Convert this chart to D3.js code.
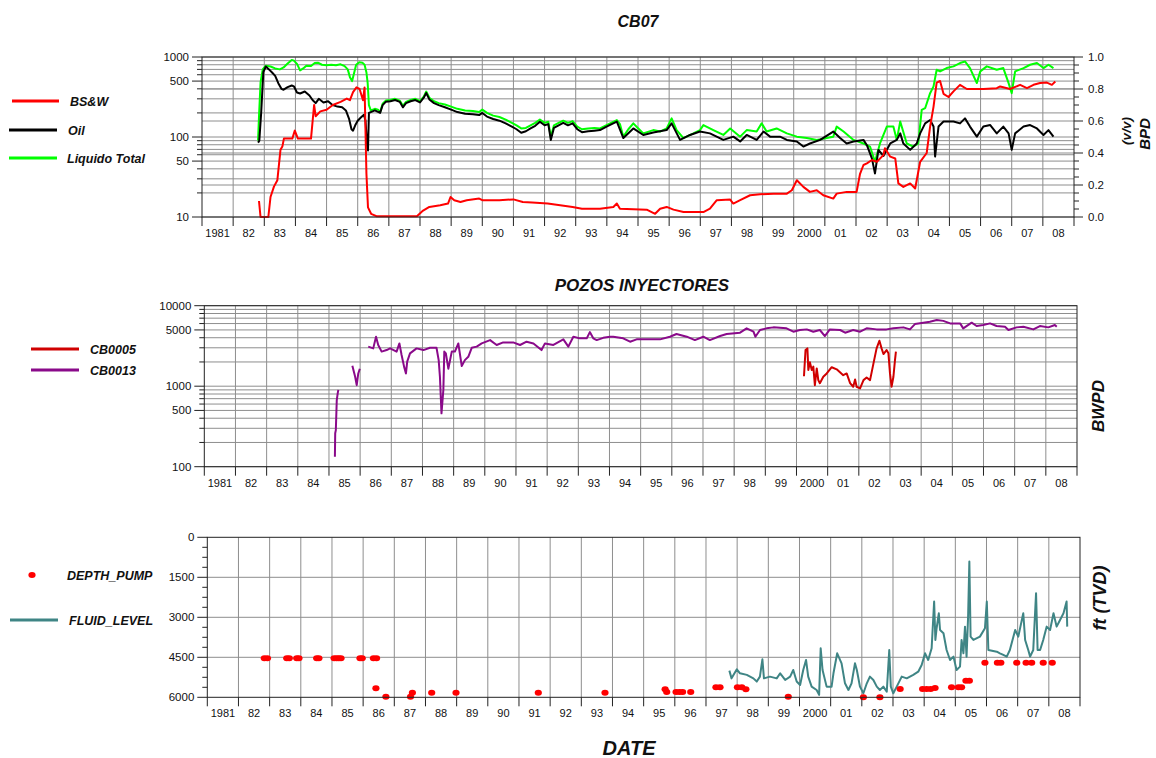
<!DOCTYPE html>
<html>
<head>
<meta charset="utf-8">
<script src="https://cdn.jsdelivr.net/npm/d3@7"></script>
<style>
  body { margin: 0; background: #fff; }
  svg text { font-family: "Liberation Sans", Arial, sans-serif; }
</style>
</head>
<body>
<svg id="chart" width="1156" height="758"></svg>
<script>
// ---------- x axis: one interval per year ----------
const yearTickLabels = ["1981","82","83","84","85","86","87","88","89","90","91","92","93","94",
  "95","96","97","98","99","2000","01","02","03","04","05","06","07","08"];

// ---------- CB07 production (BPD, log) and BS&W (v/v) ----------
const liquidoTotal = [
  [1982.80,90],[1982.83,180],[1982.88,480],[1982.95,700],[1983.05,780],[1983.2,760],[1983.35,720],
  [1983.5,700],[1983.62,740],[1983.75,830],[1983.88,920],[1983.95,900],[1984.05,820],[1984.15,680],
  [1984.25,720],[1984.35,780],[1984.5,770],[1984.62,840],[1984.72,850],[1984.85,800],[1985.0,790],
  [1985.15,800],[1985.3,790],[1985.45,810],[1985.58,770],[1985.68,700],[1985.75,560],[1985.82,500],
  [1985.88,620],[1985.95,800],[1986.05,860],[1986.15,850],[1986.22,800],[1986.28,640],[1986.32,470],
  [1986.36,250],[1986.42,215],[1986.55,225],[1986.65,220],[1986.72,205],[1986.8,260],[1986.9,285],
  [1987.05,290],[1987.2,300],[1987.35,285],[1987.45,245],[1987.55,275],[1987.7,290],[1987.85,300],
  [1988.0,280],[1988.12,320],[1988.2,370],[1988.3,310],[1988.45,280],[1988.6,265],[1988.8,255],
  [1989.0,240],[1989.2,225],[1989.45,215],[1989.7,212],[1989.9,205],[1990.0,220],[1990.15,200],
  [1990.35,185],[1990.55,178],[1990.75,165],[1990.95,150],[1991.1,140],[1991.25,128],[1991.4,130],
  [1991.55,140],[1991.7,150],[1991.85,165],[1992.0,150],[1992.12,155],[1992.2,100],[1992.3,140],
  [1992.45,150],[1992.6,160],[1992.75,150],[1992.9,158],[1993.05,135],[1993.2,125],[1993.4,128],
  [1993.6,130],[1993.78,128],[1993.99,141],[1994.32,163],[1994.42,145],[1994.53,101],[1994.69,125],
  [1994.85,148],[1995.01,128],[1995.17,111],[1995.49,122],[1995.71,117],[1995.92,128],[1996.08,171],
  [1996.24,122],[1996.46,97],[1996.78,111],[1996.99,122],[1997.1,141],[1997.42,122],[1997.74,106],
  [1997.96,128],[1998.28,101],[1998.49,122],[1998.81,117],[1998.97,148],[1999.13,117],[1999.45,128],
  [1999.78,111],[2000.1,101],[2000.42,97],[2000.74,92],[2001.06,97],[2001.27,101],[2001.38,135],
  [2001.6,117],[2001.92,92],[2002.24,83],[2002.45,76],[2002.61,49],[2002.77,83],[2002.99,135],
  [2003.2,135],[2003.31,92],[2003.42,156],[2003.63,83],[2003.84,76],[2004.0,83],[2004.11,218],
  [2004.22,229],[2004.38,353],[2004.49,429],[2004.59,693],[2004.7,661],[2004.91,727],[2005.13,764],
  [2005.34,840],[2005.5,880],[2005.66,727],[2005.88,472],[2005.99,661],[2006.2,764],[2006.52,693],
  [2006.73,727],[2006.9,472],[2007.0,353],[2007.11,661],[2007.38,727],[2007.59,800],[2007.81,840],
  [2008.02,727],[2008.18,800],[2008.34,727]
];
const oil = [
  [1982.80,85],[1982.84,90],[1982.9,200],[1982.97,650],[1983.05,760],[1983.15,700],[1983.25,640],
  [1983.35,580],[1983.45,470],[1983.55,400],[1983.62,390],[1983.75,420],[1983.88,440],[1983.95,430],
  [1984.05,360],[1984.15,350],[1984.3,370],[1984.45,330],[1984.55,290],[1984.65,265],[1984.75,300],
  [1984.9,270],[1985.05,280],[1985.2,250],[1985.35,240],[1985.5,235],[1985.62,215],[1985.72,170],
  [1985.8,125],[1985.85,120],[1985.92,140],[1986.0,160],[1986.1,175],[1986.2,190],[1986.25,160],
  [1986.3,80],[1986.33,68],[1986.36,200],[1986.42,205],[1986.55,215],[1986.72,200],[1986.8,250],
  [1986.9,275],[1987.05,280],[1987.2,290],[1987.35,275],[1987.45,235],[1987.55,265],[1987.7,280],
  [1987.85,290],[1988.0,270],[1988.12,310],[1988.2,355],[1988.3,295],[1988.45,265],[1988.6,250],
  [1988.8,235],[1989.0,220],[1989.2,205],[1989.45,195],[1989.7,192],[1989.9,188],[1990.0,200],
  [1990.15,180],[1990.35,168],[1990.55,160],[1990.75,148],[1990.95,135],[1991.1,125],[1991.25,113],
  [1991.4,118],[1991.55,128],[1991.7,138],[1991.85,155],[1992.0,140],[1992.12,145],[1992.2,92],
  [1992.3,130],[1992.45,140],[1992.6,150],[1992.75,140],[1992.9,148],[1993.05,125],[1993.2,115],
  [1993.4,118],[1993.6,120],[1993.78,122],[1993.99,135],[1994.32,156],[1994.53,97],[1994.85,128],
  [1995.17,106],[1995.49,114],[1995.92,122],[1996.08,148],[1996.35,92],[1996.67,106],[1996.99,117],
  [1997.31,111],[1997.74,92],[1998.06,101],[1998.28,88],[1998.49,106],[1998.81,92],[1999.03,117],
  [1999.24,101],[1999.56,101],[1999.78,92],[2000.1,88],[2000.31,76],[2000.52,83],[2000.85,92],
  [2001.27,117],[2001.49,97],[2001.7,83],[2001.92,88],[2002.24,92],[2002.35,79],[2002.51,54],
  [2002.61,35],[2002.72,69],[2002.88,58],[2003.1,83],[2003.31,92],[2003.42,111],[2003.52,83],
  [2003.74,69],[2003.95,83],[2004.06,111],[2004.22,148],[2004.38,163],[2004.49,135],[2004.54,57],
  [2004.65,135],[2004.81,156],[2005.13,156],[2005.34,148],[2005.5,171],[2005.66,135],[2005.88,101],
  [2006.09,135],[2006.31,141],[2006.52,111],[2006.73,135],[2006.9,111],[2007.0,69],[2007.11,111],
  [2007.38,135],[2007.59,141],[2007.81,128],[2008.02,106],[2008.18,122],[2008.34,101]
];
const bsw = [
  [1982.83,0.10],[1982.88,0.0],[1983.13,0.0],[1983.2,0.125],[1983.31,0.19],[1983.42,0.23],
  [1983.52,0.42],[1983.58,0.44],[1983.63,0.49],[1983.9,0.49],[1983.98,0.54],[1984.08,0.49],
  [1984.5,0.49],[1984.6,0.70],[1984.65,0.63],[1984.8,0.66],[1985.0,0.67],[1985.2,0.70],
  [1985.45,0.72],[1985.65,0.74],[1985.75,0.73],[1985.85,0.78],[1985.96,0.81],[1986.06,0.80],
  [1986.17,0.73],[1986.22,0.81],[1986.28,0.27],[1986.33,0.06],[1986.43,0.02],[1986.6,0.005],
  [1987.9,0.005],[1988.1,0.04],[1988.3,0.063],[1988.65,0.073],[1988.9,0.084],[1988.98,0.125],
  [1989.1,0.105],[1989.3,0.094],[1989.5,0.105],[1989.9,0.115],[1990.0,0.105],[1990.55,0.105],
  [1991.0,0.11],[1991.3,0.094],[1991.6,0.09],[1992.1,0.084],[1992.9,0.063],[1993.2,0.052],
  [1993.78,0.052],[1994.21,0.063],[1994.32,0.084],[1994.42,0.052],[1995.28,0.046],[1995.55,0.02],
  [1995.71,0.052],[1995.92,0.063],[1996.14,0.046],[1996.46,0.031],[1997.1,0.031],[1997.31,0.052],
  [1997.53,0.105],[1997.96,0.109],[1998.06,0.084],[1998.28,0.105],[1998.6,0.136],[1998.92,0.142],
  [1999.35,0.146],[1999.78,0.146],[1999.94,0.167],[2000.1,0.23],[2000.31,0.188],[2000.52,0.157],
  [2000.74,0.167],[2000.95,0.136],[2001.27,0.115],[2001.38,0.146],[2001.7,0.157],[2002.02,0.157],
  [2002.13,0.27],[2002.24,0.325],[2002.35,0.335],[2002.51,0.356],[2002.67,0.345],[2002.88,0.387],
  [2002.93,0.43],[2003.1,0.377],[2003.26,0.366],[2003.36,0.21],[2003.52,0.188],[2003.74,0.21],
  [2003.9,0.178],[2004.06,0.345],[2004.27,0.40],[2004.38,0.565],[2004.49,0.69],[2004.59,0.84],
  [2004.7,0.85],[2004.81,0.77],[2004.97,0.75],[2005.13,0.785],[2005.34,0.826],[2005.56,0.80],
  [2006.09,0.80],[2006.52,0.805],[2006.63,0.816],[2006.95,0.80],[2007.27,0.826],[2007.49,0.805],
  [2007.7,0.826],[2007.91,0.837],[2008.13,0.84],[2008.29,0.826],[2008.4,0.847]
];
const bpdTicks = [10,20,30,40,50,60,70,80,90,100,200,300,400,500,600,700,800,900,1000];
const bpdLabels = [10,50,100,500,1000];
const vvLabels = [0,0.2,0.4,0.6,0.8,1.0];

// ---------- injector wells (BWPD, log); null marks a gap ----------
const cb0013 = [
  [1985.19,133],[1985.2,260],[1985.22,285],[1985.25,670],[1985.28,815],[1985.3,900],[1985.31,null],
  [1985.75,1800],[1985.84,1310],[1985.89,1030],[1985.94,1440],[1985.99,1650],[1986.0,null],
  [1986.26,3100],[1986.42,2950],[1986.51,4120],[1986.58,3250],[1986.69,2690],[1986.85,2810],
  [1986.96,2950],[1987.17,2690],[1987.26,3400],[1987.33,2440],[1987.41,1750],[1987.47,1440],
  [1987.51,2020],[1987.6,2560],[1987.81,2950],[1988.03,2810],[1988.24,3000],[1988.45,3000],
  [1988.52,2110],[1988.56,1310],[1988.61,460],[1988.67,900],[1988.7,2690],[1988.75,2560],
  [1988.83,1650],[1988.94,2690],[1989.04,2690],[1989.15,3400],[1989.26,1780],[1989.36,2110],
  [1989.47,2320],[1989.58,3000],[1989.74,3100],[1989.9,3400],[1990.17,3740],[1990.38,3250],
  [1990.59,3500],[1990.91,3500],[1991.13,3250],[1991.34,3570],[1991.56,3400],[1991.82,2810],
  [1991.93,3400],[1992.2,3250],[1992.52,3820],[1992.68,3100],[1992.84,4120],[1993.05,3930],
  [1993.27,3930],[1993.37,4700],[1993.48,3930],[1993.59,3740],[1993.8,3990],[1994.02,4120],
  [1994.12,4120],[1994.44,3930],[1994.66,3570],[1994.87,3820],[1995.3,3820],[1995.62,3820],
  [1995.94,4120],[1996.15,4450],[1996.48,4120],[1996.74,3740],[1997.01,4120],[1997.22,3740],
  [1997.55,4200],[1997.76,4450],[1998.19,4620],[1998.4,5230],[1998.62,4750],[1998.68,4120],
  [1998.83,4990],[1999.04,5230],[1999.26,5380],[1999.68,5230],[1999.9,4750],[2000.11,4990],
  [2000.33,5080],[2000.54,4750],[2000.75,4990],[2000.91,4200],[2001.07,5080],[2001.4,4990],
  [2001.56,4620],[2001.82,4990],[2002.04,4750],[2002.25,5230],[2002.57,5080],[2002.89,5080],
  [2003.11,5230],[2003.43,5380],[2003.64,5080],[2003.8,5910],[2004.07,6150],[2004.28,6330],
  [2004.5,6640],[2004.71,6480],[2004.93,6030],[2005.25,6030],[2005.35,5230],[2005.62,6150],
  [2005.78,5590],[2005.99,5750],[2006.21,6030],[2006.42,5590],[2006.69,5480],[2006.8,4990],
  [2007.06,5380],[2007.28,5480],[2007.6,5080],[2007.81,5590],[2008.08,5380],[2008.29,5750],
  [2008.35,5480]
];
const cb0005 = [
  [2000.24,1330],[2000.29,2810],[2000.35,2950],[2000.38,1590],[2000.43,1990],[2000.49,1590],
  [2000.54,1750],[2000.59,1030],[2000.65,1660],[2000.7,1190],[2000.75,1090],[2000.86,1310],
  [2000.97,1440],[2001.13,1720],[2001.29,1620],[2001.5,1370],[2001.61,1440],[2001.72,1090],
  [2001.82,985],[2001.88,1210],[2001.93,985],[2002.04,940],[2002.15,1190],[2002.25,1280],
  [2002.36,1190],[2002.47,1920],[2002.57,2950],[2002.66,3670],[2002.73,2950],[2002.79,2510],
  [2002.89,2810],[2002.95,2560],[2003.0,1440],[2003.05,985],[2003.11,1310],[2003.16,2110],
  [2003.19,2690]
];
const bwpdTicks = [100,200,300,400,500,600,700,800,900,1000,2000,3000,4000,5000,6000,7000,8000,9000,10000];
const bwpdLabels = [100,500,1000,5000,10000];

// ---------- pump depth and fluid level (ft TVD) ----------
const depthPump = [
  [1982.83,4540],[1982.93,4540],[1983.55,4540],[1983.63,4540],[1983.87,4540],[1983.94,4540],
  [1984.51,4540],[1984.58,4540],[1985.07,4540],[1985.15,4540],[1985.22,4540],[1985.29,4540],
  [1985.9,4540],[1985.97,4540],[1986.33,4540],[1986.43,4540],[1986.41,5660],[1986.73,5975],
  [1987.52,5975],[1987.58,5825],[1988.2,5825],[1988.98,5825],[1991.62,5825],[1993.76,5825],
  [1995.69,5700],[1995.74,5800],[1996.04,5800],[1996.15,5800],[1996.25,5800],[1996.51,5800],
  [1997.32,5625],[1997.45,5625],[1998.01,5625],[1998.15,5625],[1998.28,5700],[1999.64,5975],
  [2002.05,6000],[2002.58,6000],[2003.23,5690],[2003.95,5690],[2004.08,5690],[2004.21,5690],
  [2004.35,5650],[2004.88,5625],[2005.1,5625],[2005.2,5625],[2005.34,5375],[2005.45,5375],
  [2005.95,4700],[2006.35,4700],[2006.46,4700],[2006.97,4700],[2007.27,4700],[2007.45,4700],
  [2007.82,4700],[2008.11,4700]
];
const fluidLevel = [
  [1997.75,5000],[1997.82,5290],[1997.99,4950],[1998.09,5100],[1998.31,5160],[1998.52,5290],
  [1998.63,5410],[1998.73,5225],[1998.81,4575],[1998.86,5290],[1999.05,5225],[1999.27,5290],
  [1999.38,5100],[1999.54,5350],[1999.7,5225],[1999.8,4975],[1999.91,5410],[2000.02,5540],
  [2000.12,4975],[2000.21,4600],[2000.28,5225],[2000.39,5600],[2000.55,5725],[2000.63,5910],
  [2000.68,4160],[2000.74,4975],[2000.87,5600],[2001.03,5600],[2001.09,5100],[2001.21,4350],
  [2001.35,4725],[2001.46,5475],[2001.57,5725],[2001.67,5475],[2001.78,4725],[2001.84,4975],
  [2001.94,5600],[2002.05,5850],[2002.16,5475],[2002.26,5225],[2002.37,5350],[2002.48,5600],
  [2002.58,5725],[2002.69,5600],[2002.8,5790],[2002.88,4225],[2002.93,5600],[2003.01,5850],
  [2003.12,5600],[2003.28,5225],[2003.44,5290],[2003.65,5160],[2003.81,5040],[2003.92,4790],
  [2004.03,4350],[2004.13,4600],[2004.24,4160],[2004.32,2410],[2004.36,3850],[2004.4,3410],
  [2004.47,2850],[2004.51,3475],[2004.62,3600],[2004.72,4225],[2004.83,4600],[2004.94,4475],
  [2005.04,4975],[2005.15,4850],[2005.2,3850],[2005.26,4350],[2005.31,3350],[2005.36,4475],
  [2005.41,2975],[2005.45,910],[2005.49,3725],[2005.58,3850],[2005.79,3725],[2005.95,3410],
  [2006.01,2410],[2006.06,4225],[2006.33,4290],[2006.43,4350],[2006.54,4410],[2006.65,4475],
  [2006.75,4225],[2006.92,3475],[2007.02,3725],[2007.18,2850],[2007.24,3850],[2007.34,4225],
  [2007.4,4475],[2007.5,4225],[2007.59,2100],[2007.64,4225],[2007.72,4225],[2007.82,3850],
  [2007.93,3350],[2008.04,3475],[2008.15,2850],[2008.25,3350],[2008.36,3100],[2008.47,2850],
  [2008.57,2410],[2008.59,3350]
];
const ftTicks = [0,375,750,1125,1500,1875,2250,2625,3000,3375,3750,4125,4500,4875,5250,5625,6000];
const ftLabels = [0,1500,3000,4500,6000];

// ---------- drawing ----------
const svg = d3.select("#chart");
const GRID = "#8e8e8e", FRAME = "#222";
const yearBounds = d3.range(1981, 2010);

function frame(g, x, y0, y1) {
  // vertical year gridlines
  g.selectAll("line.vg").data(yearBounds.slice(1, -1)).join("line")
    .attr("x1", d => x(d)).attr("x2", d => x(d)).attr("y1", y0).attr("y2", y1)
    .attr("stroke", GRID).attr("stroke-width", 1);
}
function border(g, x, y0, y1) {
  const [xa, xb] = x.range();
  g.append("rect").attr("x", xa).attr("y", y0).attr("width", xb - xa).attr("height", y1 - y0)
    .attr("fill", "none").attr("stroke", FRAME).attr("stroke-width", 1);
  // year ticks and labels below the axis
  g.selectAll("line.xt").data(yearBounds).join("line")
    .attr("x1", d => x(d)).attr("x2", d => x(d)).attr("y1", y1).attr("y2", y1 + 9)
    .attr("stroke", FRAME);
  g.selectAll("text.xl").data(yearTickLabels).join("text")
    .attr("x", (d, i) => x(1981 + i + 0.5)).attr("y", y1 + 20)
    .attr("text-anchor", "middle").attr("font-size", 11).attr("fill", "#111").text(d => d);
}
function leftAxis(g, x0, y, ticks, labels, fmt) {
  g.selectAll("line.yt").data(ticks).join("line")
    .attr("x1", d => x0 - (labels.includes(d) ? 10 : 5)).attr("x2", x0)
    .attr("y1", d => y(d)).attr("y2", d => y(d)).attr("stroke", FRAME);
  g.selectAll("text.yl").data(labels).join("text")
    .attr("x", x0 - 13).attr("y", d => y(d) + 4).attr("text-anchor", "end")
    .attr("font-size", 11.5).attr("fill", "#111").text(fmt);
}
function hGrid(g, x, y, vals) {
  const [xa, xb] = x.range();
  g.selectAll(null).data(vals).join("line")
    .attr("x1", xa).attr("x2", xb).attr("y1", d => y(d)).attr("y2", d => y(d))
    .attr("stroke", GRID).attr("stroke-width", 1);
}
function drawLine(g, data, x, y, color, w) {
  g.append("path").datum(data)
    .attr("d", d3.line().defined(d => d[1] != null).x(d => x(d[0])).y(d => y(d[1])))
    .attr("fill", "none").attr("stroke", color).attr("stroke-width", w)
    .attr("stroke-linejoin", "round");
}
function label(x, y, txt, size, anchor, rot) {
  const t = svg.append("text").attr("font-size", size).attr("font-weight", "bold")
    .attr("font-style", "italic").attr("fill", "#111").attr("text-anchor", anchor || "start").text(txt);
  if (rot) t.attr("transform", `translate(${x},${y}) rotate(-90)`);
  else t.attr("x", x).attr("y", y);
  return t;
}

// ---- panel 1: CB07 ----
{
  const g = svg.append("g");
  const x = d3.scaleLinear().domain([1981, 2009]).range([202, 1074]);
  const y = d3.scaleLog().domain([10, 1000]).range([217, 57]);
  const yr = d3.scaleLinear().domain([0, 1]).range([217, 57]);
  hGrid(g, x, y, bpdTicks);
  hGrid(g, x, yr, [0.2, 0.4, 0.6, 0.8]);
  frame(g, x, 57, 217);
  drawLine(g, liquidoTotal, x, y, "#00ff00", 2);
  drawLine(g, oil, x, y, "#000000", 2);
  drawLine(g, bsw, x, yr, "#ff0000", 2);
  border(g, x, 57, 217);
  leftAxis(g, 202, y, bpdTicks, bpdLabels, d => d);
  // right (v/v) axis
  const minor = d3.range(0, 21).map(i => i / 20);
  g.selectAll("line.rt").data(minor).join("line")
    .attr("x1", 1074).attr("x2", (d, i) => 1074 + (i % 4 === 0 ? 9 : 5))
    .attr("y1", d => yr(d)).attr("y2", d => yr(d)).attr("stroke", FRAME);
  g.selectAll("text.rl").data(vvLabels).join("text")
    .attr("x", 1088).attr("y", d => yr(d) + 4).attr("font-size", 11.5).attr("fill", "#111")
    .text(d => d.toFixed(1));
  label(638, 27, "CB07", 16, "middle");
  label(1150, 134, "BPD", 15, "middle", true);
  label(1131, 131, "(v/v)", 13.5, "middle", true);
}

// ---- panel 2: POZOS INYECTORES ----
{
  const g = svg.append("g");
  const x = d3.scaleLinear().domain([1981, 2009]).range([204.3, 1077]);
  const y = d3.scaleLog().domain([100, 10000]).range([466.7, 305.7]);
  hGrid(g, x, y, bwpdTicks);
  frame(g, x, 305.7, 466.7);
  drawLine(g, cb0013, x, y, "#8a0a8a", 2);
  drawLine(g, cb0005, x, y, "#d00000", 2);
  border(g, x, 305.7, 466.7);
  leftAxis(g, 204.3, y, bwpdTicks, bwpdLabels, d => d);
  label(642, 291, "POZOS INYECTORES", 17, "middle");
  label(1104, 406, "BWPD", 17, "middle", true);
}

// ---- panel 3: pump depth / fluid level ----
{
  const g = svg.append("g");
  const x = d3.scaleLinear().domain([1981, 2009]).range([207.3, 1080]);
  const y = d3.scaleLinear().domain([0, 6000]).range([537.3, 697.3]);
  hGrid(g, x, y, [1500, 3000, 4500]);
  frame(g, x, 537.3, 697.3);
  drawLine(g, fluidLevel, x, y, "#3f8585", 2);
  g.selectAll("ellipse").data(depthPump).join("ellipse")
    .attr("cx", d => x(d[0])).attr("cy", d => y(d[1])).attr("rx", 3.6).attr("ry", 3)
    .attr("fill", "#ff0000");
  border(g, x, 537.3, 697.3);
  leftAxis(g, 207.3, y, ftTicks, ftLabels, d => d);
  label(1106, 598, "ft (TVD)", 18, "middle", true);
  label(629, 755, "DATE", 20, "middle");
}

// ---- legends ----
const legendLines = [
  { x1: 12, x2: 59, y: 101, color: "#ff0000", text: "BS&W", tx: 70 },
  { x1: 9, x2: 57, y: 130, color: "#000000", text: "Oil", tx: 68 },
  { x1: 9, x2: 57, y: 158, color: "#00ff00", text: "Liquido Total", tx: 67 },
  { x1: 31, x2: 79, y: 349, color: "#d00000", text: "CB0005", tx: 90 },
  { x1: 31, x2: 79, y: 370, color: "#8a0a8a", text: "CB0013", tx: 90 },
  { x1: 10, x2: 58, y: 620, color: "#3f8585", text: "FLUID_LEVEL", tx: 69 }
];
legendLines.forEach(l => {
  svg.append("line").attr("x1", l.x1).attr("x2", l.x2).attr("y1", l.y).attr("y2", l.y)
    .attr("stroke", l.color).attr("stroke-width", 3);
  label(l.tx, l.y + 4.5, l.text, 12.5);
});
svg.append("ellipse").attr("cx", 32).attr("cy", 575).attr("rx", 3.6).attr("ry", 3).attr("fill", "#ff0000");
label(67, 579.5, "DEPTH_PUMP", 12.5);
</script>
</body>
</html>
